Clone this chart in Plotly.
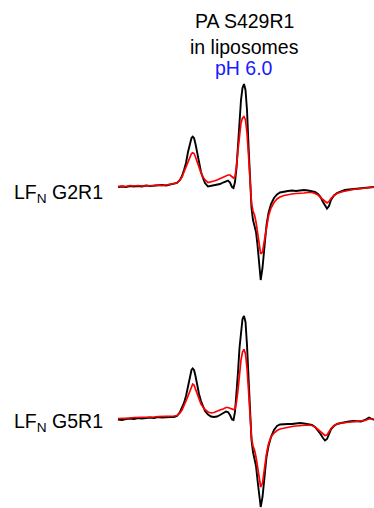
import plotly.graph_objects as go

# Magnetic field (G), common grid for all spectra
field = [3300, 3302, 3304, 3306, 3308, 3310, 3312, 3314, 3316, 3318, 3320, 3322, 3324, 3326, 3328,
         3329.5, 3331, 3332, 3333, 3334, 3335, 3336, 3336.75, 3337.35, 3338, 3338.75, 3339.5, 3340.5,
         3341.5, 3342.5, 3343.5, 3345, 3346.5, 3348, 3349.5, 3351, 3352.5, 3354, 3355, 3356, 3357,
         3357.75, 3358.5, 3359.25, 3360, 3360.75, 3361.5, 3362.25, 3363, 3363.75, 3364.5, 3365.25,
         3366, 3366.75, 3367.5, 3368.25, 3369, 3369.75, 3370.5, 3371.35, 3372.25, 3373.25, 3374.25,
         3375.25, 3376.5, 3378, 3379.5, 3381, 3383, 3385, 3387, 3389, 3391, 3393, 3395, 3397, 3398.5,
         3400, 3401.25, 3402.5, 3403.5, 3404.5, 3405.5, 3406.5, 3408, 3409.5, 3411.5, 3413.5, 3415.5,
         3417.5, 3419.5, 3421.5, 3423.5, 3425.5, 3428]

# LFN G2R1 spectra (arbitrary units)
g2_black = [-1, -0.5, -1, 0, -0.5, 0, -0.5, 0.5, 0, 0.5, 0.5, 1, 0.5, 1.5, 2,
            3, 6, 10, 16, 23, 34, 44, 48, 49.3, 48, 42, 34, 23,
            14, 8, 3, -0.5, 0, 0.5, 1, 2, 3.5, 5, 5.5, 3.5, -1,
            -2, 4, 18, 41, 66, 86, 98, 102, 96, 76, 41,
            6, -22, -34, -40, -46, -59, -79, -94, -82, -59, -39,
            -27, -18, -12, -8.5, -6.5, -5.5, -5, -4.5, -5, -4.5, -4, -4.5, -5, -6,
            -8, -11, -16, -20, -22.5, -20, -14, -9.5, -7, -5.5, -4, -3.5,
            -3, -2.5, -2, -1.5, -1, -1]
g2_red = [-0.5, 0, -0.5, 0.5, 0, 0.5, 0, 0, 0.5, 0.5, 1, 0.5, 1, 1.5, 2,
          3, 6, 9, 14, 19, 25, 30, 32.5, 33.3, 32.5, 29, 24, 18,
          13, 9, 6, 3.5, 4, 5, 6, 7.5, 8.5, 10, 11, 11, 9,
          8, 9.5, 20, 36, 52, 63, 68, 69.3, 66, 53, 31,
          1, -17, -25, -29, -36, -47, -59, -68, -66, -54, -40,
          -30, -22, -16.5, -13, -11, -9.5, -8.5, -8, -7.5, -7.5, -7, -6.5, -6.5, -7.5,
          -9, -11.5, -14, -16, -17, -15.5, -12.5, -9.5, -7.5, -6, -5, -4,
          -3.5, -3, -2.5, -2, -1.5, -1]

# LFN G5R1 spectra (arbitrary units)
g5_black = [-0.5, -1, 0, 0.5, 0, 1, 0.5, 1, 1.5, 1, 2, 1.5, 2, 2, 2,
            3, 7, 11, 16, 23, 33, 43, 49, 50.5, 49, 43, 35, 25,
            18, 12, 8, 4.5, 2.5, 2, 2.5, 4, 6, 7.5, 7, 4, -0.5,
            -1, 7, 24, 47, 71, 89, 100, 103, 97, 74, 39,
            4, -21, -33, -39, -47, -61, -76, -88, -78, -56, -38,
            -27, -18, -11, -7, -5.5, -5, -5, -5, -4.5, -4, -4.5, -5, -6, -8,
            -11.5, -15, -19, -21.5, -20, -15, -10.5, -7, -5, -4, -3, -2.5,
            -2, -2, -2.5, -1, 1.5, -1]
g5_red = [0.5, 0.5, 1, 1, 1.5, 1.5, 1.5, 2, 2, 2, 2.5, 2.5, 2.5, 2.5, 3,
          3.5, 6, 9, 13, 18, 23, 29, 33, 35, 34, 30, 25, 19,
          15, 12, 9.5, 7, 6, 6.5, 8, 9, 10, 11.5, 11.5, 11, 10,
          9.5, 10, 17, 29, 45, 59, 67, 69.7, 65, 51, 29,
          -1, -19, -27, -31, -38, -49, -60, -68, -64, -49, -35,
          -25, -18, -14, -11.5, -10, -9, -8, -7.5, -7, -6.5, -6, -6, -6.5, -8,
          -10.5, -13, -15.5, -16.5, -16, -13, -9.5, -6.5, -5, -4, -3.5, -3,
          -2.5, -2, -1.5, -1.5, 0, 0]

title_lines = ["PA S429R1", "in liposomes", "pH 6.0"]
row_labels = ["LF<sub>N</sub> G2R1", "LF<sub>N</sub> G5R1"]

for arr in (g2_black, g2_red, g5_black, g5_red):
    assert len(arr) == len(field)

W, H = 374, 508
FONT = "Liberation Sans, Arial, Helvetica, sans-serif"

fig = go.Figure()
fig.add_trace(go.Scatter(x=field, y=g2_black, mode="lines", line=dict(color="black", width=1.9),
                         yaxis="y", showlegend=False))
fig.add_trace(go.Scatter(x=field, y=g2_red, mode="lines", line=dict(color="#ff0000", width=1.7),
                         yaxis="y", showlegend=False))
fig.add_trace(go.Scatter(x=field, y=g5_black, mode="lines", line=dict(color="black", width=1.9),
                         yaxis="y2", showlegend=False))
fig.add_trace(go.Scatter(x=field, y=g5_red, mode="lines", line=dict(color="#ff0000", width=1.7),
                         yaxis="y2", showlegend=False))

hidden = dict(visible=False, showgrid=False, zeroline=False, fixedrange=True)
fig.update_layout(
    width=W, height=H,
    margin=dict(l=0, r=0, t=0, b=0),
    paper_bgcolor="white", plot_bgcolor="white",
    xaxis=dict(range=[3241, 3428], **hidden),
    yaxis=dict(range=[-322, 186], domain=[0, 1], **hidden),
    yaxis2=dict(range=[-89, 419], overlaying="y", **hidden),
    font=dict(family=FONT, color="black"),
)

title_colors = ["black", "black", "#1a1aff"]
title_y = [21, 46.5, 68.5]
for txt, col, yy in zip(title_lines, title_colors, title_y):
    fig.add_annotation(text=txt, x=244 / W, y=1 - yy / H, xref="paper", yref="paper",
                       xanchor="center", yanchor="middle", showarrow=False,
                       font=dict(family=FONT, size=19.5, color=col))

for txt, yy in zip(row_labels, [193, 422]):
    fig.add_annotation(text=txt, x=12 / W, y=1 - yy / H, xref="paper", yref="paper",
                       xanchor="left", yanchor="middle", showarrow=False,
                       font=dict(family=FONT, size=19.5, color="black"))

fig.write_html("out.html", config={"displayModeBar": False},
               post_script="document.body.style.margin='0';document.body.style.padding='0';")
